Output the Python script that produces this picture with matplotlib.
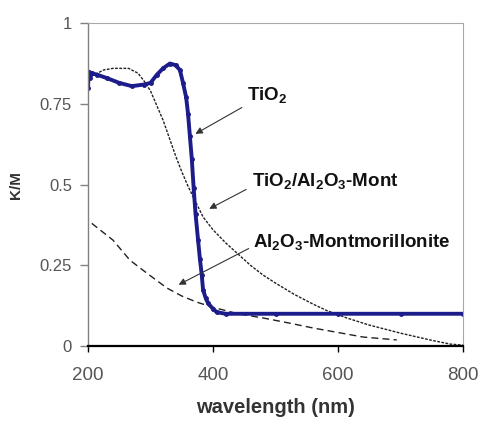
import matplotlib
matplotlib.use("Agg")
import matplotlib.pyplot as plt

plt.rcParams['font.family'] = ['Liberation Sans', 'DejaVu Sans']
plt.rcParams['mathtext.fontset'] = 'custom'
plt.rcParams['mathtext.rm'] = 'Liberation Sans:bold'
plt.rcParams['mathtext.default'] = 'rm'

# TiO2 (blue, thick dotted)
tio2_wl = [200, 201, 203, 206, 215, 230, 250, 270, 290, 300, 310, 320, 331, 340, 347,
           352, 357, 360, 363, 366, 369, 372, 376, 379, 382, 384, 388, 392, 400, 406,
           420, 500, 600, 700, 800]
tio2_km = [0.80, 0.85, 0.83, 0.845, 0.84, 0.83, 0.815, 0.805, 0.81, 0.815, 0.84, 0.86,
           0.875, 0.87, 0.855, 0.815, 0.77, 0.72, 0.65, 0.58, 0.49, 0.41, 0.33, 0.27,
           0.22, 0.175, 0.15, 0.133, 0.115, 0.105, 0.1, 0.1, 0.1, 0.1, 0.1]

# TiO2/Al2O3-Mont (thin black dotted)
mix_wl = [200, 210, 225, 240, 265, 280, 290, 300, 310, 320, 330, 340, 350, 360, 370,
          384, 400, 420, 440, 460, 480, 500, 530, 560, 582, 614, 650, 700, 747, 780, 800]
mix_km = [0.83, 0.84, 0.855, 0.86, 0.86, 0.845, 0.82, 0.79, 0.745, 0.70, 0.645, 0.59,
          0.54, 0.495, 0.455, 0.40, 0.36, 0.32, 0.285, 0.25, 0.22, 0.195, 0.16, 0.13,
          0.11, 0.087, 0.065, 0.04, 0.019, 0.006, 0.003]

# Al2O3-Montmorillonite (dashed)
mont_wl = [206, 240, 267, 294, 326, 350, 374, 400, 440, 480, 520, 560, 600, 640, 694]
mont_km = [0.38, 0.328, 0.266, 0.226, 0.18, 0.155, 0.136, 0.12, 0.10, 0.087, 0.072,
           0.056, 0.042, 0.028, 0.019]

x_ticks = [200, 400, 600, 800]
y_ticks = [0, 0.25, 0.5, 0.75, 1]
y_tick_labels = ['0', '0.25', '0.5', '0.75', '1']

fig = plt.figure(figsize=(4.81, 4.21), dpi=100)
ax = fig.add_axes([0.183, 0.178, 0.7796, 0.767])

ax.plot(mont_wl, mont_km, color='#222222', lw=1, ls=(0, (5, 3)))
ax.plot(mix_wl, mix_km, color='#222222', lw=1, ls=(0, (2, 1)))
ax.plot(tio2_wl, tio2_km, color='#1c1c8a', lw=2.8, marker='o', ms=2.5)

ax.set_xlim(200, 800)
ax.set_ylim(0, 1)
ax.set_xticks(x_ticks)
ax.set_yticks(y_ticks)
ax.set_yticklabels(y_tick_labels)

for s in ['top', 'right']:
    ax.spines[s].set_color('#a8a8a8')
    ax.spines[s].set_linewidth(0.8)
ax.spines['left'].set_color('#808080')
ax.spines['left'].set_linewidth(1.0)
ax.spines['bottom'].set_color('black')
ax.spines['bottom'].set_linewidth(1.6)

ax.tick_params(axis='y', direction='out', length=5.5, width=1, color='#808080',
               labelcolor='#555555', labelsize=12, pad=6)
ax.tick_params(axis='x', direction='out', length=4, width=1, color='black',
               labelcolor='#555555', labelsize=13.5, pad=11)

ax.set_xlabel('wavelength (nm)', fontsize=14.5, fontweight='bold', color='#333333', labelpad=10)
ax.set_ylabel('K/M', fontsize=11, fontweight='bold', color='#333333', labelpad=12)

arrow = dict(arrowstyle='-|>', color='#333333', lw=0.8, mutation_scale=10)

ax.annotate('', xy=(368, 0.653), xytext=(450, 0.743), arrowprops=arrow)
ax.text(454, 0.777, 'TiO$_2$', fontsize=13.5, fontweight='bold', color='#111111',
        va='center', ha='left')

ax.annotate('', xy=(390, 0.421), xytext=(457, 0.489), arrowprops=arrow)
ax.text(462, 0.511, 'TiO$_2$/Al$_2$O$_3$-Mont', fontsize=13.5, fontweight='bold',
        color='#111111', va='center', ha='left')

ax.annotate('', xy=(341, 0.186), xytext=(461, 0.306), arrowprops=arrow)
ax.text(464, 0.322, 'Al$_2$O$_3$-Montmorillonite', fontsize=13.5, fontweight='bold',
        color='#111111', va='center', ha='left')

fig.savefig('out.png', dpi=100)
